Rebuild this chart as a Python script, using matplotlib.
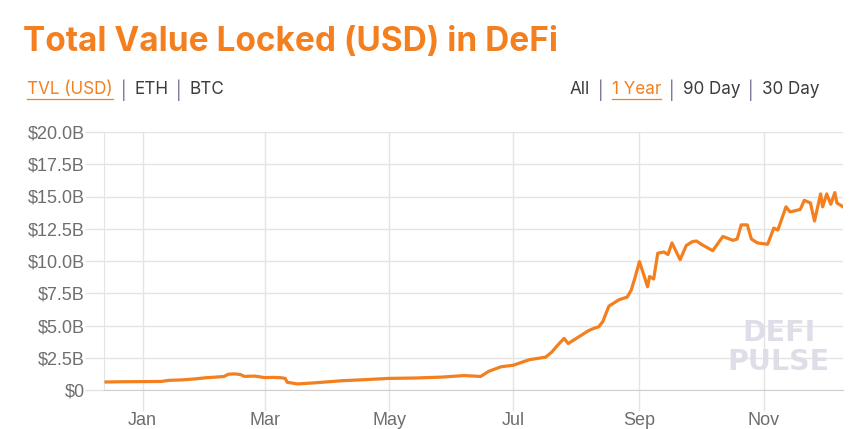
import numpy as np
import pandas as pd
import matplotlib
matplotlib.use('Agg')
import matplotlib.pyplot as plt
import matplotlib.dates as mdates
from matplotlib.ticker import FuncFormatter

# TVL readings (billions USD)
dates = ['2019-12-14', '2019-12-22', '2020-01-01', '2020-01-10', '2020-01-14',
         '2020-01-20', '2020-01-26', '2020-02-01', '2020-02-06', '2020-02-10',
         '2020-02-12', '2020-02-15', '2020-02-18', '2020-02-20', '2020-02-25',
         '2020-03-01', '2020-03-05', '2020-03-09', '2020-03-11', '2020-03-12',
         '2020-03-17', '2020-03-25', '2020-04-08', '2020-04-19', '2020-05-01',
         '2020-05-14', '2020-05-27', '2020-06-07', '2020-06-15', '2020-06-19',
         '2020-06-25', '2020-07-01', '2020-07-09', '2020-07-17', '2020-07-20',
         '2020-07-23', '2020-07-26', '2020-07-28', '2020-08-02', '2020-08-07',
         '2020-08-10', '2020-08-12', '2020-08-14', '2020-08-17', '2020-08-20',
         '2020-08-22', '2020-08-26', '2020-08-28', '2020-08-30', '2020-09-01',
         '2020-09-03', '2020-09-05', '2020-09-06', '2020-09-08', '2020-09-10',
         '2020-09-13', '2020-09-15', '2020-09-17', '2020-09-21', '2020-09-24',
         '2020-09-27', '2020-09-29', '2020-10-02', '2020-10-07', '2020-10-12',
         '2020-10-17', '2020-10-19', '2020-10-21', '2020-10-24', '2020-10-26',
         '2020-10-29', '2020-11-03', '2020-11-06', '2020-11-08', '2020-11-12',
         '2020-11-14', '2020-11-19', '2020-11-21', '2020-11-24', '2020-11-26',
         '2020-11-29', '2020-11-30', '2020-12-02', '2020-12-04', '2020-12-06',
         '2020-12-07', '2020-12-10']
tvl = [0.62, 0.64, 0.65, 0.66, 0.75,
       0.78, 0.85, 0.95, 1.00, 1.05,
       1.22, 1.25, 1.20, 1.05, 1.08,
       0.96, 0.98, 0.95, 0.90, 0.60,
       0.47, 0.55, 0.72, 0.80, 0.90,
       0.93, 1.00, 1.12, 1.05, 1.45,
       1.80, 1.92, 2.35, 2.55, 2.95,
       3.50, 4.00, 3.60, 4.10, 4.60,
       4.80, 4.90, 5.30, 6.50, 6.80,
       7.00, 7.20, 7.75, 8.80, 9.95,
       9.00, 8.00, 8.80, 8.60, 10.6,
       10.7, 10.5, 11.4, 10.1, 11.2,
       11.5, 11.55, 11.24, 10.8, 11.9,
       11.6, 11.7, 12.8, 12.8, 11.7,
       11.4, 11.3, 12.55, 12.4, 14.2,
       13.8, 14.0, 14.7, 14.5, 13.1,
       15.2, 14.2, 15.2, 14.4, 15.3,
       14.5, 14.2]

x_start, x_end = '2019-12-13', '2020-12-10'
month_ticks = ['2020-01-01', '2020-03-01', '2020-05-01', '2020-07-01', '2020-09-01', '2020-11-01']
y_ticks = [0, 2.5, 5, 7.5, 10, 12.5, 15, 17.5, 20]

left_tabs = ['TVL (USD)', 'ETH', 'BTC']
right_tabs = ['All', '1 Year', '90 Day', '30 Day']

orange = '#f47f1f'
grid_c = '#e4e4e4'
tick_c = '#6e6e6e'
dark = '#3c3c3c'
sep_c = '#6f6a8c'

W, H = 864, 429
fig = plt.figure(figsize=(W / 100, H / 100), dpi=100)
ax = fig.add_axes([104 / W, 1 - 390 / H, (843 - 104) / W, (390 - 132) / H])

ax.plot(pd.to_datetime(dates), tvl, color=orange, lw=2.3, zorder=3)

ax.set_xlim(pd.Timestamp(x_start), pd.Timestamp(x_end))
ax.set_ylim(0, 20)
ax.set_yticks(y_ticks)
ax.yaxis.set_major_formatter(FuncFormatter(lambda v, p: '$0' if v == 0 else '${:.1f}B'.format(v)))
ax.set_xticks(pd.to_datetime(month_ticks))
ax.xaxis.set_major_formatter(mdates.DateFormatter('%b'))

ax.grid(True, color=grid_c, lw=1)
ax.set_axisbelow(True)
for s in ['top', 'right']:
    ax.spines[s].set_visible(False)
ax.spines['left'].set_color(grid_c)
ax.spines['bottom'].set_color('#cfcfcf')
ax.tick_params(axis='both', colors=grid_c, labelcolor=tick_c, labelsize=13, width=1)
ax.tick_params(axis='y', length=14, pad=0)
ax.tick_params(axis='x', length=15, pad=1)
for lab in ax.get_xticklabels() + ax.get_yticklabels():
    lab.set_family('Liberation Sans')

# watermark
wm = dict(transform=ax.transAxes, ha='center', va='center', fontsize=20.5,
          fontweight='bold', color='#e0dde9', family='DejaVu Sans', zorder=1)
ax.text(0.913, 0.222, 'DEFI', **wm)
ax.text(0.913, 0.108, 'PULSE', **wm)

# title
fig.text(23 / W, 1 - 42 / H, 'Total Value Locked (USD) in DeFi', color=orange,
         fontsize=24, fontweight='bold', family='Inter', va='center')

# selector rows
fig.canvas.draw()
rend = fig.canvas.get_renderer()


def tab_row(x0, y0, labels, active, size=12.3):
    x = x0
    for i, lab in enumerate(labels):
        if i > 0:
            s = fig.text(x / W + 8 / W, 1 - y0 / H, '|', color=sep_c, fontsize=size,
                         family='Inter', va='center')
            x = s.get_window_extent(renderer=rend).x1 + 8
        col = orange if lab == active else dark
        t = fig.text(x / W, 1 - y0 / H, lab, color=col, fontsize=size,
                     family='Inter', va='center')
        bb = t.get_window_extent(renderer=rend)
        if lab == active:
            fig.add_artist(plt.Line2D([bb.x0 / W, bb.x1 / W],
                                      [(H - y0 - 9) / H, (H - y0 - 9) / H],
                                      color=orange, lw=0.9))
        x = bb.x1


tab_row(27, 90, left_tabs, 'TVL (USD)')
tab_row(570, 90, right_tabs, '1 Year')

fig.savefig('out.png', dpi=100, facecolor='white')
